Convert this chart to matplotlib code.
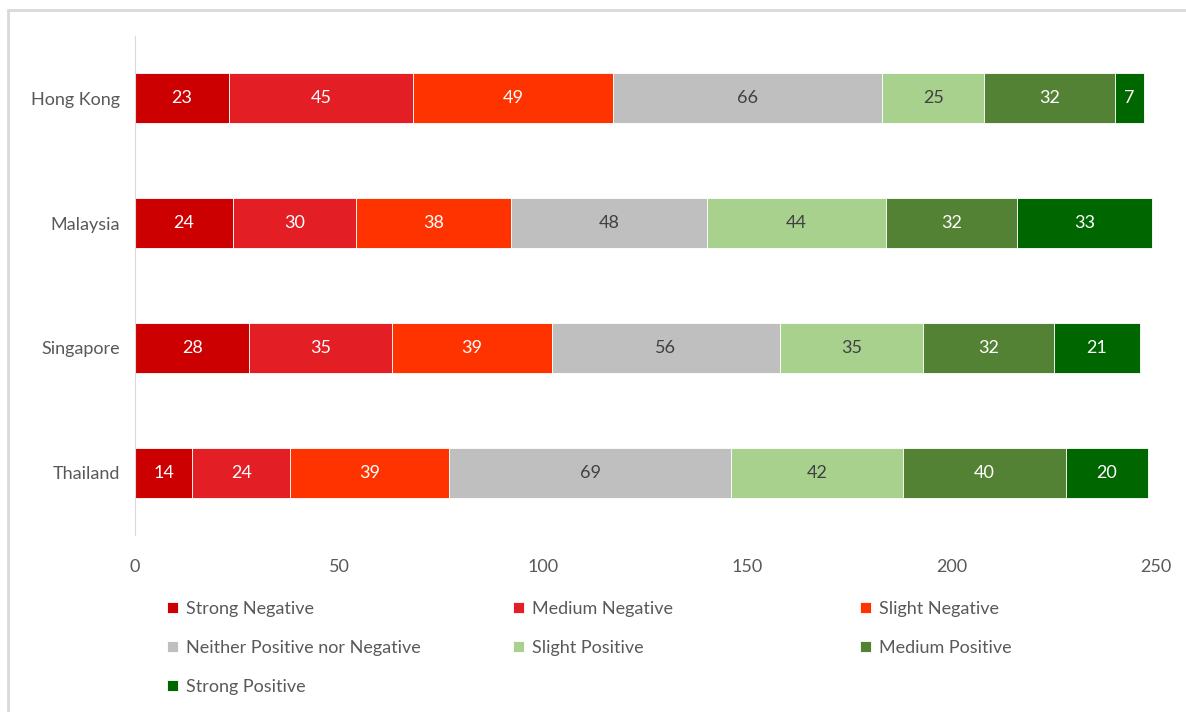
import matplotlib.pyplot as plt
import matplotlib.patches as mpatches
import numpy as np

plt.rcParams['font.family'] = ['Lato', 'DejaVu Sans']

countries = ['Thailand', 'Singapore', 'Malaysia', 'Hong Kong']
series_names = ['Strong Negative', 'Medium Negative', 'Slight Negative',
                'Neither Positive nor Negative', 'Slight Positive',
                'Medium Positive', 'Strong Positive']
strong_neg = [14, 28, 24, 23]
medium_neg = [24, 35, 30, 45]
slight_neg = [39, 39, 38, 49]
neither = [69, 56, 48, 66]
slight_pos = [42, 35, 44, 25]
medium_pos = [40, 32, 32, 32]
strong_pos = [20, 21, 33, 7]

series_values = [strong_neg, medium_neg, slight_neg, neither,
                 slight_pos, medium_pos, strong_pos]
colors = ['#CC0000', '#E31E24', '#FF3300', '#BFBFBF', '#A9D18E', '#548235', '#006600']
label_colors = ['white', 'white', 'white', '#404040', '#404040', 'white', 'white']

fig = plt.figure(figsize=(11.86, 7.12), dpi=100)
ax = fig.add_axes([135 / 1186, 1 - 535 / 712, (1156 - 135) / 1186, (535 - 36) / 712])

# light frame of the chart area (left and top edges visible)
fig.patches.append(mpatches.Rectangle((8 / 1186, -0.1), 1.2, 1.1 - 10 / 712,
                                      transform=fig.transFigure, fill=False,
                                      edgecolor='#D9D9D9', linewidth=2, zorder=0))

y = np.arange(len(countries))
left = np.zeros(len(countries))
handles = []
for name, vals, c, tc in zip(series_names, series_values, colors, label_colors):
    vals = np.array(vals)
    bars = ax.barh(y, vals, left=left, height=0.4, color=c, edgecolor='white',
                   linewidth=0.6, label=name)
    handles.append(bars)
    for xi, yi, v in zip(left, y, vals):
        ax.text(xi + v / 2, yi, str(v), ha='center', va='center',
                color=tc, fontsize=13)
    left += vals

ax.set_xlim(0, 250)
ax.set_ylim(-0.5, 3.5)
ax.set_yticks(y)
ax.set_yticklabels(countries)
ax.set_xticks([0, 50, 100, 150, 200, 250])
for s in ['top', 'right', 'bottom']:
    ax.spines[s].set_visible(False)
ax.spines['left'].set_color('#D9D9D9')
ax.tick_params(axis='both', length=0, labelsize=13, colors='#595959')
ax.tick_params(axis='y', pad=11)
ax.tick_params(axis='x', pad=17)

# legend laid out row by row in three columns, like the original
columns = [[0, 3, 6], [1, 4], [2, 5]]
col_x = [167, 513, 860]
for idx, cx in zip(columns, col_x):
    leg = fig.legend([handles[i] for i in idx], [series_names[i] for i in idx],
                     loc='upper left', bbox_to_anchor=(cx / 1186, 1 - 601 / 712),
                     frameon=False, fontsize=13, handlelength=0.6, handleheight=0.6,
                     handletextpad=0.45, labelspacing=1.27, borderpad=0,
                     borderaxespad=0)
    for t in leg.get_texts():
        t.set_color('#595959')

fig.savefig('out.png', dpi=100, facecolor='white')
